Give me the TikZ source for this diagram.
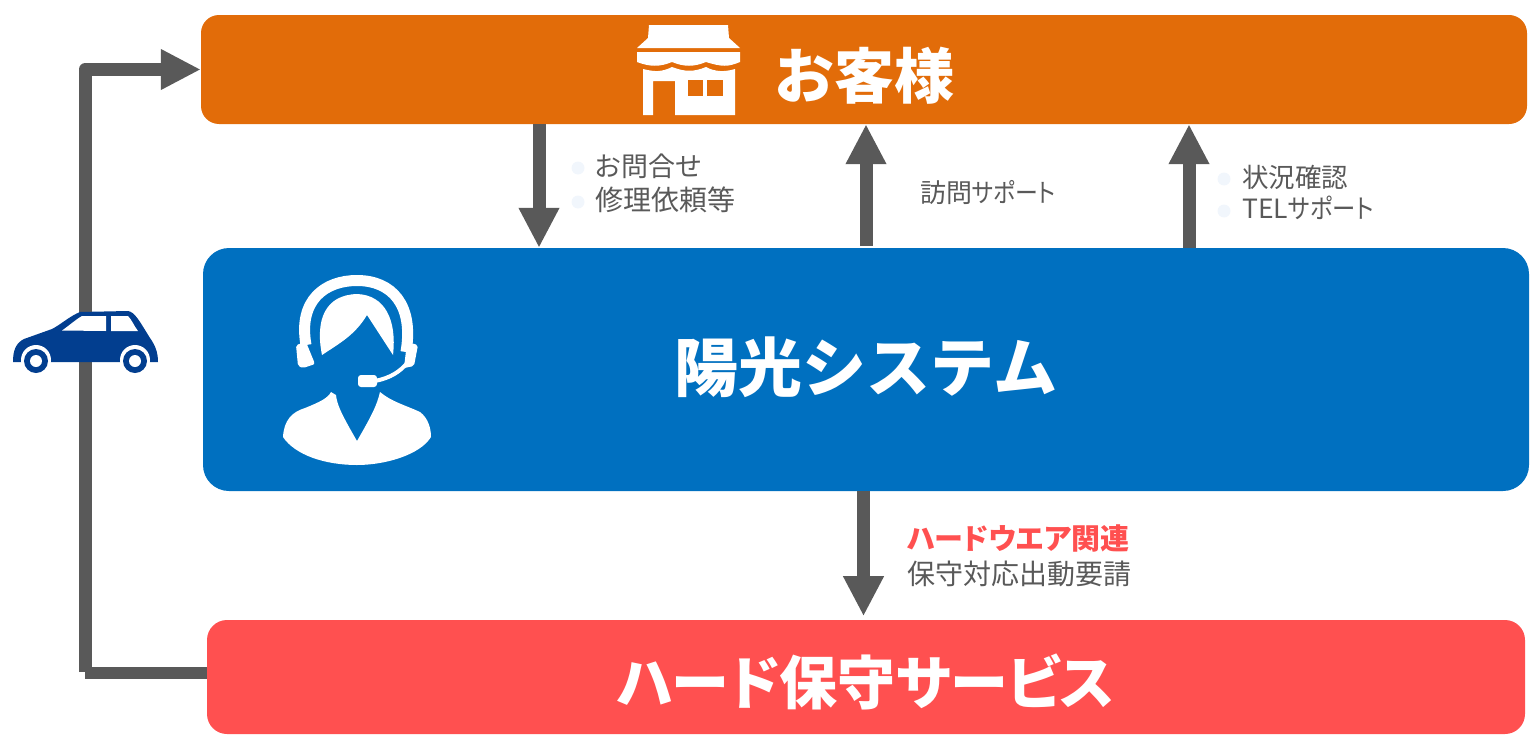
\documentclass[tikz,border=0pt]{standalone}
\usepackage{fontspec}
\usepackage{xcolor}
\setmainfont[RawFeature={+palt}]{Noto Sans CJK JP}
\newfontfamily\titlefont{Noto Sans CJK JP}
\newfontfamily\narrowkana[RawFeature={+palt},FakeStretch=0.88]{Noto Sans CJK JP}
\usetikzlibrary{arrows.meta}
\definecolor{custOrange}{HTML}{E26C09}
\definecolor{sysBlue}{HTML}{0070C0}
\definecolor{hardRed}{HTML}{FF5050}
\definecolor{flowGray}{HTML}{595959}
\definecolor{carBlue}{HTML}{023E8F}
\definecolor{dotPale}{HTML}{F1F6FC}
\tikzset{
  bandbox/.style={inner sep=0pt, text=white, font=\bfseries},
  flowline/.style={flowGray, line width=13pt, line join=round, -{Triangle[width=38pt,length=40pt]}},
  notelabel/.style={anchor=west, inner sep=0pt, text=flowGray, font=\fontsize{28}{32}\selectfont},
  dotmark/.style={circle, fill=dotPale, inner sep=0pt, minimum size=13pt}
}
\begin{document}
\begin{tikzpicture}[x=1pt, y=-1pt]
  \useasboundingbox (0,0) rectangle (1530,736);
  % bands
  \node[bandbox, rounded corners=18pt, fill=custOrange, minimum width=1326pt, minimum height=109pt] (custBand) at (864,69.5) {};
  \node[bandbox, rounded corners=26pt, fill=sysBlue, minimum width=1326pt, minimum height=243pt] (sysBand) at (866,369.5) {};
  \node[bandbox, rounded corners=20pt, fill=hardRed, minimum width=1318pt, minimum height=114pt] (hardBand) at (866,677) {};
  \node[text=white, font=\titlefont\bfseries\fontsize{60}{60}\selectfont, inner sep=0pt] (custText) at (864,76) {お客様};
  \node[text=white, font=\titlefont\bfseries\fontsize{64}{64}\selectfont, inner sep=0pt] (sysText) at (866,367) {陽光システム};
  \node[text=white, font=\bfseries\fontsize{58}{58}\selectfont, inner sep=0pt] (hardText) at (866,682) {ハード保守サービス};
  % connectors
  \coordinate (inqX) at (539,0);
  \coordinate (visitX) at (866,0);
  \coordinate (telX) at (1189,0);
  \coordinate (dispX) at (863.5,0);
  \coordinate (leftTurn) at (85,672.5);
  \coordinate (topTurn) at (85,69.5);
  \draw[flowline] (inqX |- custBand.south) -- (inqX |- sysBand.north);
  \draw[flowline] ([yshift=2pt]visitX |- sysBand.north) -- (visitX |- custBand.south);
  \draw[flowline] (telX |- sysBand.north) -- (telX |- custBand.south);
  \draw[flowline] (dispX |- sysBand.south) -- ++(0,125);
  \draw[flowGray, line width=12pt] (hardBand.west |- leftTurn) -- (leftTurn);
  \draw[flowline] (85,672) -- (topTurn) -- (custBand.west |- topTurn);
  % notes
  \node[dotmark] (dotA) at (578,168) {};
  \node[dotmark] (dotB) at (578,202) {};
  \node[notelabel, font=\fontsize{27}{32}\selectfont] (inqA) at (595,166) {お問合せ};
  \node[notelabel] (inqB) at (595,200) {修理依頼等};
  \node[notelabel, font=\fontsize{26}{32}\selectfont] (visitNote) at (920,193) {訪問{\narrowkana サポート}};
  \node[dotmark] (dotC) at (1224,179) {};
  \node[dotmark] (dotD) at (1224,211) {};
  \node[notelabel, font=\fontsize{26.5}{32}\selectfont] (telA) at (1242,177) {状況確認};
  \node[notelabel, font=\fontsize{26.5}{32}\selectfont] (telB) at (1242,208) {TEL{\narrowkana サポート}};
  \node[notelabel, text=hardRed, font=\bfseries\fontsize{29}{32}\selectfont] (dispA) at (907,538) {ハードウエア関連};
  \node[notelabel] (dispB) at (907,574) {保守対応出動要請};
  % shop icon
  \fill[white] (649,25) -- (728,25) -- (729,38) -- (740,48) -- (637,48) -- (648,38) -- cycle;
  \fill[white] (637,52) -- (740,52) -- (740,62)
     .. controls (728,67) and (722,67) .. (706,62) .. controls (694,67) and (684,67) .. (672,62)
     .. controls (660,67) and (650,67) .. (637,62) -- cycle;
  \fill[white] (643,69) .. controls (655,72) and (662,72) .. (672,67) .. controls (685,72) and (694,72) .. (706,67)
     .. controls (715,72) and (725,72) .. (735,69) -- (735,115) -- (675,115) -- (675,81) -- (653,81) -- (653,115) -- (643,115) -- cycle;
  \fill[custOrange] (688,80) rectangle (703,96);
  \fill[custOrange] (707,80) rectangle (723,96);
  % agent icon
  \fill[white] (283,437) .. controls (284,420) and (292,412) .. (305,408) .. controls (320,402) and (328,398) .. (331,392)
     -- (336,395) .. controls (337,405) and (342,415) .. (357,441)
     .. controls (372,415) and (377,405) .. (380,392) .. controls (392,402) and (405,405) .. (420,412)
     .. controls (428,418) and (431,428) .. (431,437) .. controls (420,455) and (385,465) .. (357,465)
     .. controls (325,465) and (295,455) .. (283,437) -- cycle;
  \fill[white] (322,355) .. controls (315,320) and (325,295) .. (357,294) .. controls (385,295) and (397,320) .. (393,355)
     -- (367,315) .. controls (355,335) and (340,343) .. (322,355) -- cycle;
  \draw[white, line width=11pt] (306,345) .. controls (298,300) and (325,280.5) .. (357,280.5)
     .. controls (392,280.5) and (414,305) .. (406,352);
  \fill[white, rounded corners=2pt] (296,345) -- (306,342) -- (315,364) -- (303,368) -- (298,366) -- cycle;
  \fill[white, rounded corners=2pt] (407,342) -- (418,345) -- (414,366) -- (404,368) -- cycle;
  \draw[white, line width=4pt] (408,362) .. controls (400,372) and (390,378) .. (375,381);
  \fill[white, rounded corners=3pt] (358,375) rectangle (377,387);
  % car icon
  \fill[carBlue] (13,362) .. controls (13,350) and (16,343) .. (24,339) -- (52,329) .. controls (60,325) and (70,316) .. (80,312)
     -- (128,311) .. controls (135,312) and (140,322) .. (150,338) .. controls (155,345) and (158,352) .. (158,362) -- cycle;
  \fill[white] (62,330.5) .. controls (70,325) and (75,320) .. (82,316) -- (106,316) -- (106,331) -- cycle;
  \fill[white] (111,316) -- (128,316) .. controls (132,320) and (134,326) .. (138,331) -- (111,331) -- cycle;
  \fill[white] (36,360) circle (15pt);
  \fill[white] (135,360) circle (15pt);
  \fill[carBlue] (36,361) circle (12pt);
  \fill[carBlue] (135,361) circle (12pt);
  \fill[white] (36,361) circle (6pt);
  \fill[white] (135,361) circle (6pt);
\end{tikzpicture}
\end{document}
